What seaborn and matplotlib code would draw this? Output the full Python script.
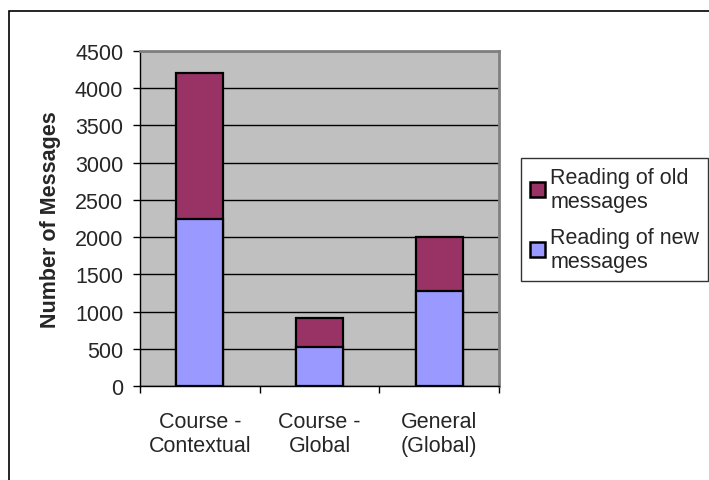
import matplotlib
matplotlib.use("Agg")
import matplotlib.pyplot as plt
import seaborn as sns
import pandas as pd
from matplotlib.patches import Patch, Rectangle
from matplotlib.ticker import FixedLocator

categories = ["Course -\nContextual", "Course -\nGlobal", "General\n(Global)"]
new_msgs = [2250, 520, 1270]
old_msgs = [1960, 390, 730]
series_labels = ["Reading of old\nmessages", "Reading of new\nmessages"]
yticks = [0, 500, 1000, 1500, 2000, 2500, 3000, 3500, 4000, 4500]

c_old = "#993366"
c_new = "#9999FF"
FS = 15.5

sns.set_style("white")
plt.rcParams["font.family"] = ["Liberation Sans", "DejaVu Sans"]

df = pd.DataFrame({"cat": categories, "new": new_msgs, "old": old_msgs})
df["total"] = df["new"] + df["old"]

fig = plt.figure(figsize=(7.09, 4.81), dpi=100)
ax = fig.add_axes([140/709, 1-387/481, (499-140)/709, (387-52)/481])
ax.set_facecolor("#C0C0C0")

sns.barplot(data=df, x="cat", y="total", color=c_old, width=0.39,
            edgecolor="black", linewidth=1.6, saturation=1, ax=ax, zorder=3)
sns.barplot(data=df, x="cat", y="new", color=c_new, width=0.39,
            edgecolor="black", linewidth=1.6, saturation=1, ax=ax, zorder=3)

ax.set_xlim(-0.5, 2.5)
ax.set_ylim(0, 4500)
ax.set_yticks(yticks)
ax.set_yticklabels([str(v) for v in yticks], fontsize=FS)
ax.yaxis.grid(True, color="black", linewidth=1)
ax.set_axisbelow(True)
ax.tick_params(axis="y", direction="out", length=5, width=1, color="black", left=True, pad=7)
ax.tick_params(axis="x", which="major", length=0, labelsize=FS, pad=18)
ax.xaxis.set_minor_locator(FixedLocator([-0.5, 0.5, 1.5, 2.5]))
ax.tick_params(axis="x", which="minor", direction="out", length=5, width=1, color="black", bottom=True)
ax.set_xlabel("")
ax.set_ylabel("Number of Messages", fontsize=FS, fontweight="bold", labelpad=10)

for s in ["left", "bottom"]:
    ax.spines[s].set_color("black")
    ax.spines[s].set_linewidth(1)
for s in ["top", "right"]:
    ax.spines[s].set_color("#808080")
    ax.spines[s].set_linewidth(2)

handles = [Patch(facecolor=c_old, edgecolor="black", linewidth=1.8),
           Patch(facecolor=c_new, edgecolor="black", linewidth=1.8)]
leg = fig.legend(handles, series_labels, loc="upper left", mode="expand",
                 bbox_to_anchor=(521/709, (481-279)/481, 187/709, 120/481), fontsize=FS,
                 frameon=True, fancybox=False, handlelength=0.7, handleheight=0.7,
                 handletextpad=0.25, borderpad=0.4, labelspacing=0.7, borderaxespad=0)
leg.get_frame().set_edgecolor("black")
leg.get_frame().set_linewidth(1)

fig.patches.append(Rectangle((9/709, -0.1), 1.2, 1-12/481+0.1, transform=fig.transFigure,
                             fill=False, edgecolor="black", linewidth=1.2))

fig.savefig("out.png", dpi=100)
